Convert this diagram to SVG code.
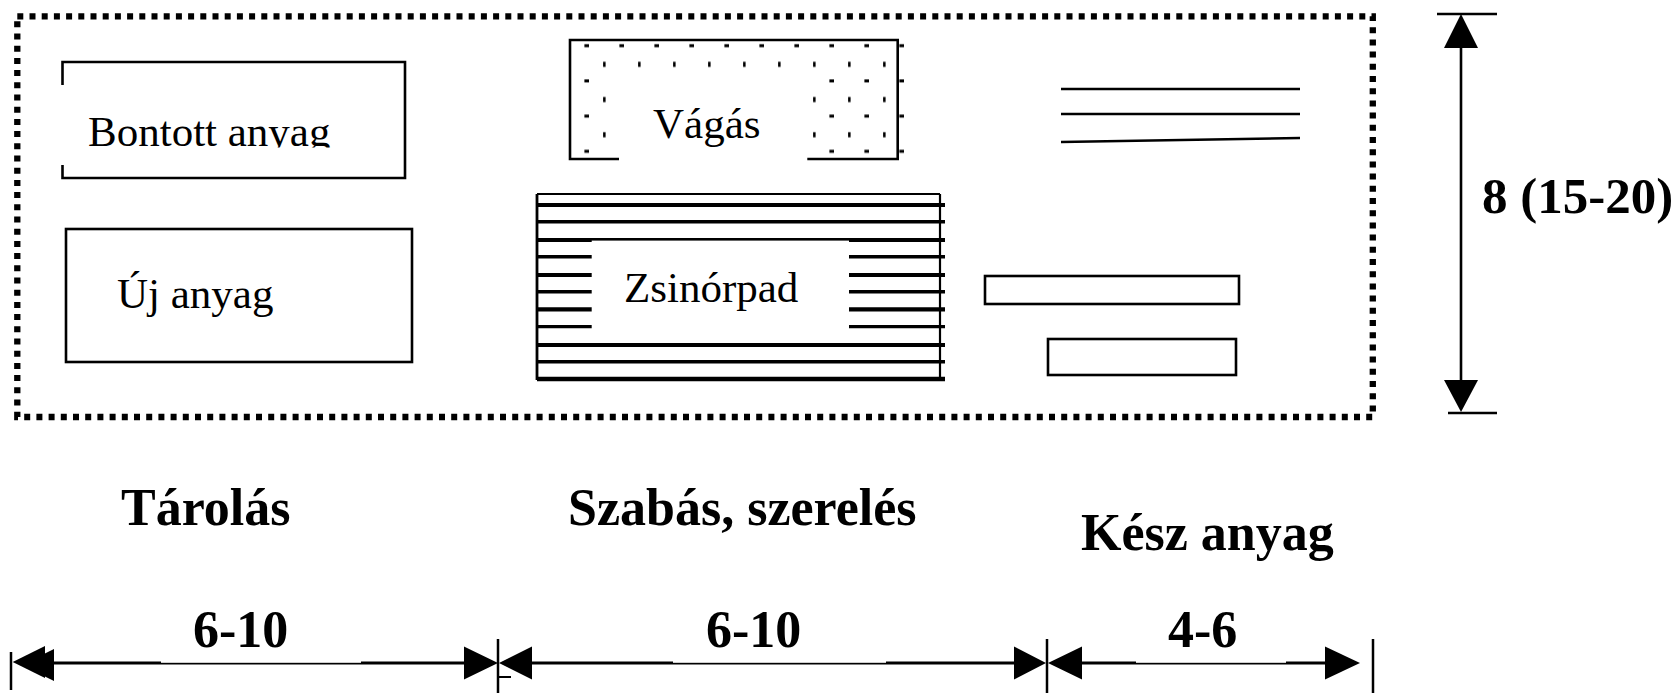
<svg xmlns="http://www.w3.org/2000/svg" width="1679" height="693" viewBox="0 0 1679 693">
<style>
.ln{fill:none;stroke:#000;stroke-width:2.6}
.hl{stroke:#000;stroke-width:4.2}
.lbl{font-family:"Liberation Serif","Times New Roman",serif;font-size:43px;fill:#000}
.bl{font-family:"Liberation Serif","Times New Roman",serif;font-size:52px;font-weight:bold;fill:#000}
.ah{fill:#000}
</style>
<defs>
<pattern id="dots" patternUnits="userSpaceOnUse" x="580" y="37" width="35" height="35.2">
<rect x="4.4" y="7.2" width="4.6" height="3" fill="#000"/>
<rect x="23.1" y="24.8" width="2.5" height="5.1" fill="#000"/>
</pattern>
<clipPath id="clipB"><rect x="60" y="60" width="350" height="87.5"/></clipPath>
</defs>
<rect width="1679" height="693" fill="#fff"/>

<g id="frame">
<rect x="17.3" y="16.3" width="1355.5" height="400.7" fill="none" stroke="#000" stroke-width="6.3" stroke-dasharray="6 6.2"/>
</g>

<g id="bontott">
<path class="ln" d="M62.5,85 V62 H405 V178 H62.5 V165"/>
<text class="lbl" x="88" y="146" clip-path="url(#clipB)">Bontott anyag</text>
</g>

<g id="uj">
<rect class="ln" x="66" y="229" width="346" height="133"/>
<text class="lbl" x="117" y="308">Új anyag</text>
</g>

<g id="vagas">
<rect x="569" y="40" width="335" height="120" fill="url(#dots)"/>
<rect x="619" y="73" width="188" height="92" fill="#fff"/>
<path class="ln" d="M619,159 H570 V40 H897.7 V159 H807.3"/>
<text class="lbl" x="653" y="138">Vágás</text>
</g>

<g id="zsinorpad">
<line x1="537" y1="194" x2="940" y2="194" stroke="#000" stroke-width="2"/>
<line x1="537" y1="194" x2="537" y2="380" stroke="#000" stroke-width="2.8"/>
<line x1="940" y1="194" x2="940" y2="380" stroke="#000" stroke-width="2.2"/>
<g class="hl">
<line x1="537" y1="205" x2="945" y2="205"/>
<line x1="537" y1="221.7" x2="945" y2="221.7" stroke-width="3.6"/>
<line x1="537" y1="240" x2="945" y2="240"/>
<line x1="537" y1="256.7" x2="945" y2="256.7" stroke-width="3.6"/>
<line x1="537" y1="275" x2="945" y2="275"/>
<line x1="537" y1="291.7" x2="945" y2="291.7" stroke-width="3.6"/>
<line x1="537" y1="309.3" x2="945" y2="309.3"/>
<line x1="537" y1="326.7" x2="945" y2="326.7" stroke-width="3.3"/>
<line x1="537" y1="345" x2="945" y2="345"/>
<line x1="537" y1="361.7" x2="945" y2="361.7" stroke-width="3.4"/>
<line x1="537" y1="379" x2="945" y2="379" stroke-width="4.5"/>
</g>
<rect x="591.7" y="240.6" width="257.3" height="95" fill="#fff"/>
<text class="lbl" x="624" y="302">Zsinórpad</text>
</g>

<g id="kesz-lines">
<line class="ln" x1="1061" y1="89" x2="1300" y2="89"/>
<line class="ln" x1="1061" y1="114" x2="1300" y2="114"/>
<line class="ln" x1="1061" y1="142" x2="1300" y2="138"/>
</g>

<g id="kesz-rects">
<rect class="ln" x="985" y="276" width="254" height="28"/>
<rect class="ln" x="1048" y="339" width="188" height="36"/>
</g>

<g id="labels">
<text class="bl" x="121" y="525">Tárolás</text>
<text class="bl" x="568" y="525">Szabás, szerelés</text>
<text class="bl" x="1081" y="550">Kész anyag</text>
<text class="bl" x="1482" y="213" style="font-size:51px">8 (15-20)</text>
</g>

<g id="connectors">
<line class="ln" x1="1437" y1="14" x2="1497" y2="14"/>
<line class="ln" x1="1448" y1="413" x2="1497" y2="413"/>
<line class="ln" x1="1461" y1="46" x2="1461" y2="382"/>
<polygon class="ah" points="1461,14 1444,48 1478,48"/>
<polygon class="ah" points="1461,412 1444,380 1478,380"/>
<line x1="11" y1="652" x2="11" y2="690" stroke="#000" stroke-width="2.5"/>
<line x1="498" y1="639" x2="498" y2="693" stroke="#000" stroke-width="2.5"/>
<line x1="1047" y1="639" x2="1047" y2="693" stroke="#000" stroke-width="2.5"/>
<line x1="1373" y1="639" x2="1373" y2="693" stroke="#000" stroke-width="2.5"/>
<line x1="498" y1="677" x2="511" y2="677" stroke="#000" stroke-width="2"/>
<line x1="50" y1="663" x2="466" y2="663" stroke="#000" stroke-width="3.2"/>
<line x1="530" y1="663" x2="1016" y2="663" stroke="#000" stroke-width="3.2"/>
<line x1="1080" y1="663" x2="1327" y2="663" stroke="#000" stroke-width="3.2"/>
<polygon class="ah" points="12.7,662 45,646 45,678"/>
<polygon class="ah" points="21.7,665 54,649 54,681"/>
<polygon class="ah" points="498,663 464,646.5 464,679.5"/>
<polygon class="ah" points="499,663 532,646.5 532,679.5"/>
<polygon class="ah" points="1046,663 1014,646.5 1014,679.5"/>
<polygon class="ah" points="1048,663 1082,646.5 1082,679.5"/>
<polygon class="ah" points="1360,663 1325,646.5 1325,679.5"/>
<rect x="161" y="600" width="200" height="62.8" fill="#fff"/>
<rect x="673" y="600" width="213" height="62.8" fill="#fff"/>
<rect x="1136" y="600" width="150" height="62.8" fill="#fff"/>
<text class="bl" x="193" y="647">6-10</text>
<text class="bl" x="706" y="647">6-10</text>
<text class="bl" x="1168" y="647">4-6</text>
</g>
</svg>
